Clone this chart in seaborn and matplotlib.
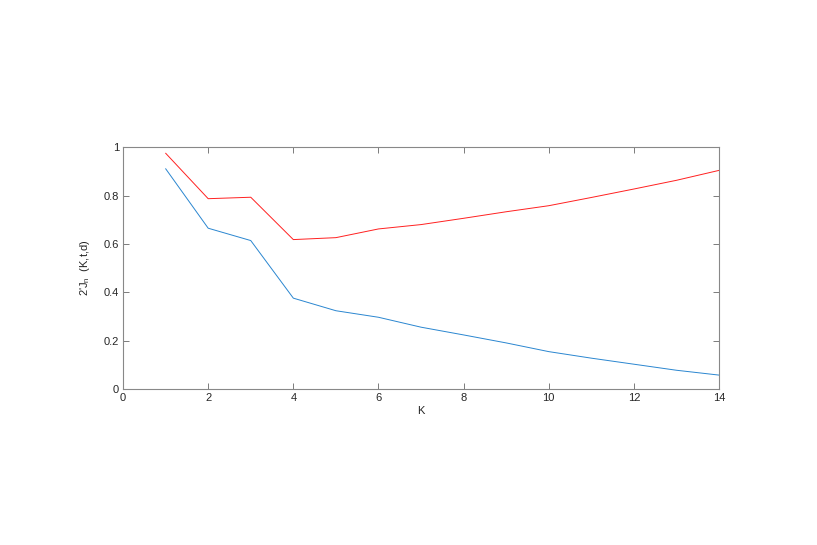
import pandas as pd
import matplotlib
matplotlib.use("Agg")
import matplotlib.pyplot as plt
import seaborn as sns

# values
k = [1, 2, 3, 4, 5, 6, 7, 8, 9, 10, 11, 12, 13, 14]
upper = [0.975, 0.787, 0.793, 0.618, 0.626, 0.662, 0.680, 0.706, 0.733, 0.758, 0.792, 0.827, 0.863, 0.904]
lower = [0.911, 0.665, 0.614, 0.376, 0.324, 0.297, 0.256, 0.224, 0.191, 0.155, 0.128, 0.103, 0.078, 0.058]
xticks = [0, 2, 4, 6, 8, 10, 12, 14]
yticks = [0, 0.2, 0.4, 0.6, 0.8, 1]
ytick_labels = ["0", "0.2", "0.4", "0.6", "0.8", "1"]

df = pd.DataFrame({"K": k, "upper": upper, "lower": lower})

sns.set_style("white")
plt.rcParams["font.family"] = ["Liberation Sans", "DejaVu Sans"]

fig = plt.figure(figsize=(8.17, 5.45), dpi=100)
ax = fig.add_axes([0.1506, 0.286, 0.7295, 0.444])

sns.lineplot(data=df, x="K", y="upper", color="#ff2020", linewidth=0.7, ax=ax)
sns.lineplot(data=df, x="K", y="lower", color="#2a86d0", linewidth=0.7, ax=ax)

ax.set_xlim(0, 14)
ax.set_ylim(0, 1)
ax.set_xticks(xticks)
ax.set_xticklabels([str(t) for t in xticks])
ax.set_yticks(yticks)
ax.set_yticklabels(ytick_labels)
ax.tick_params(direction="in", length=4, width=0.6, color="#666666", labelsize=8,
               top=True, right=True, bottom=True, left=True, pad=3)
for s in ax.spines.values():
    s.set_visible(True)
    s.set_color("#888888")
    s.set_linewidth(0.8)

ax.set_xlabel("K", fontsize=8, labelpad=2)
ax.set_ylabel(r"2'J$_{\mathregular{n}}$  (K,t,d)", fontsize=8, labelpad=8)

fig.savefig("out.png", dpi=100)
